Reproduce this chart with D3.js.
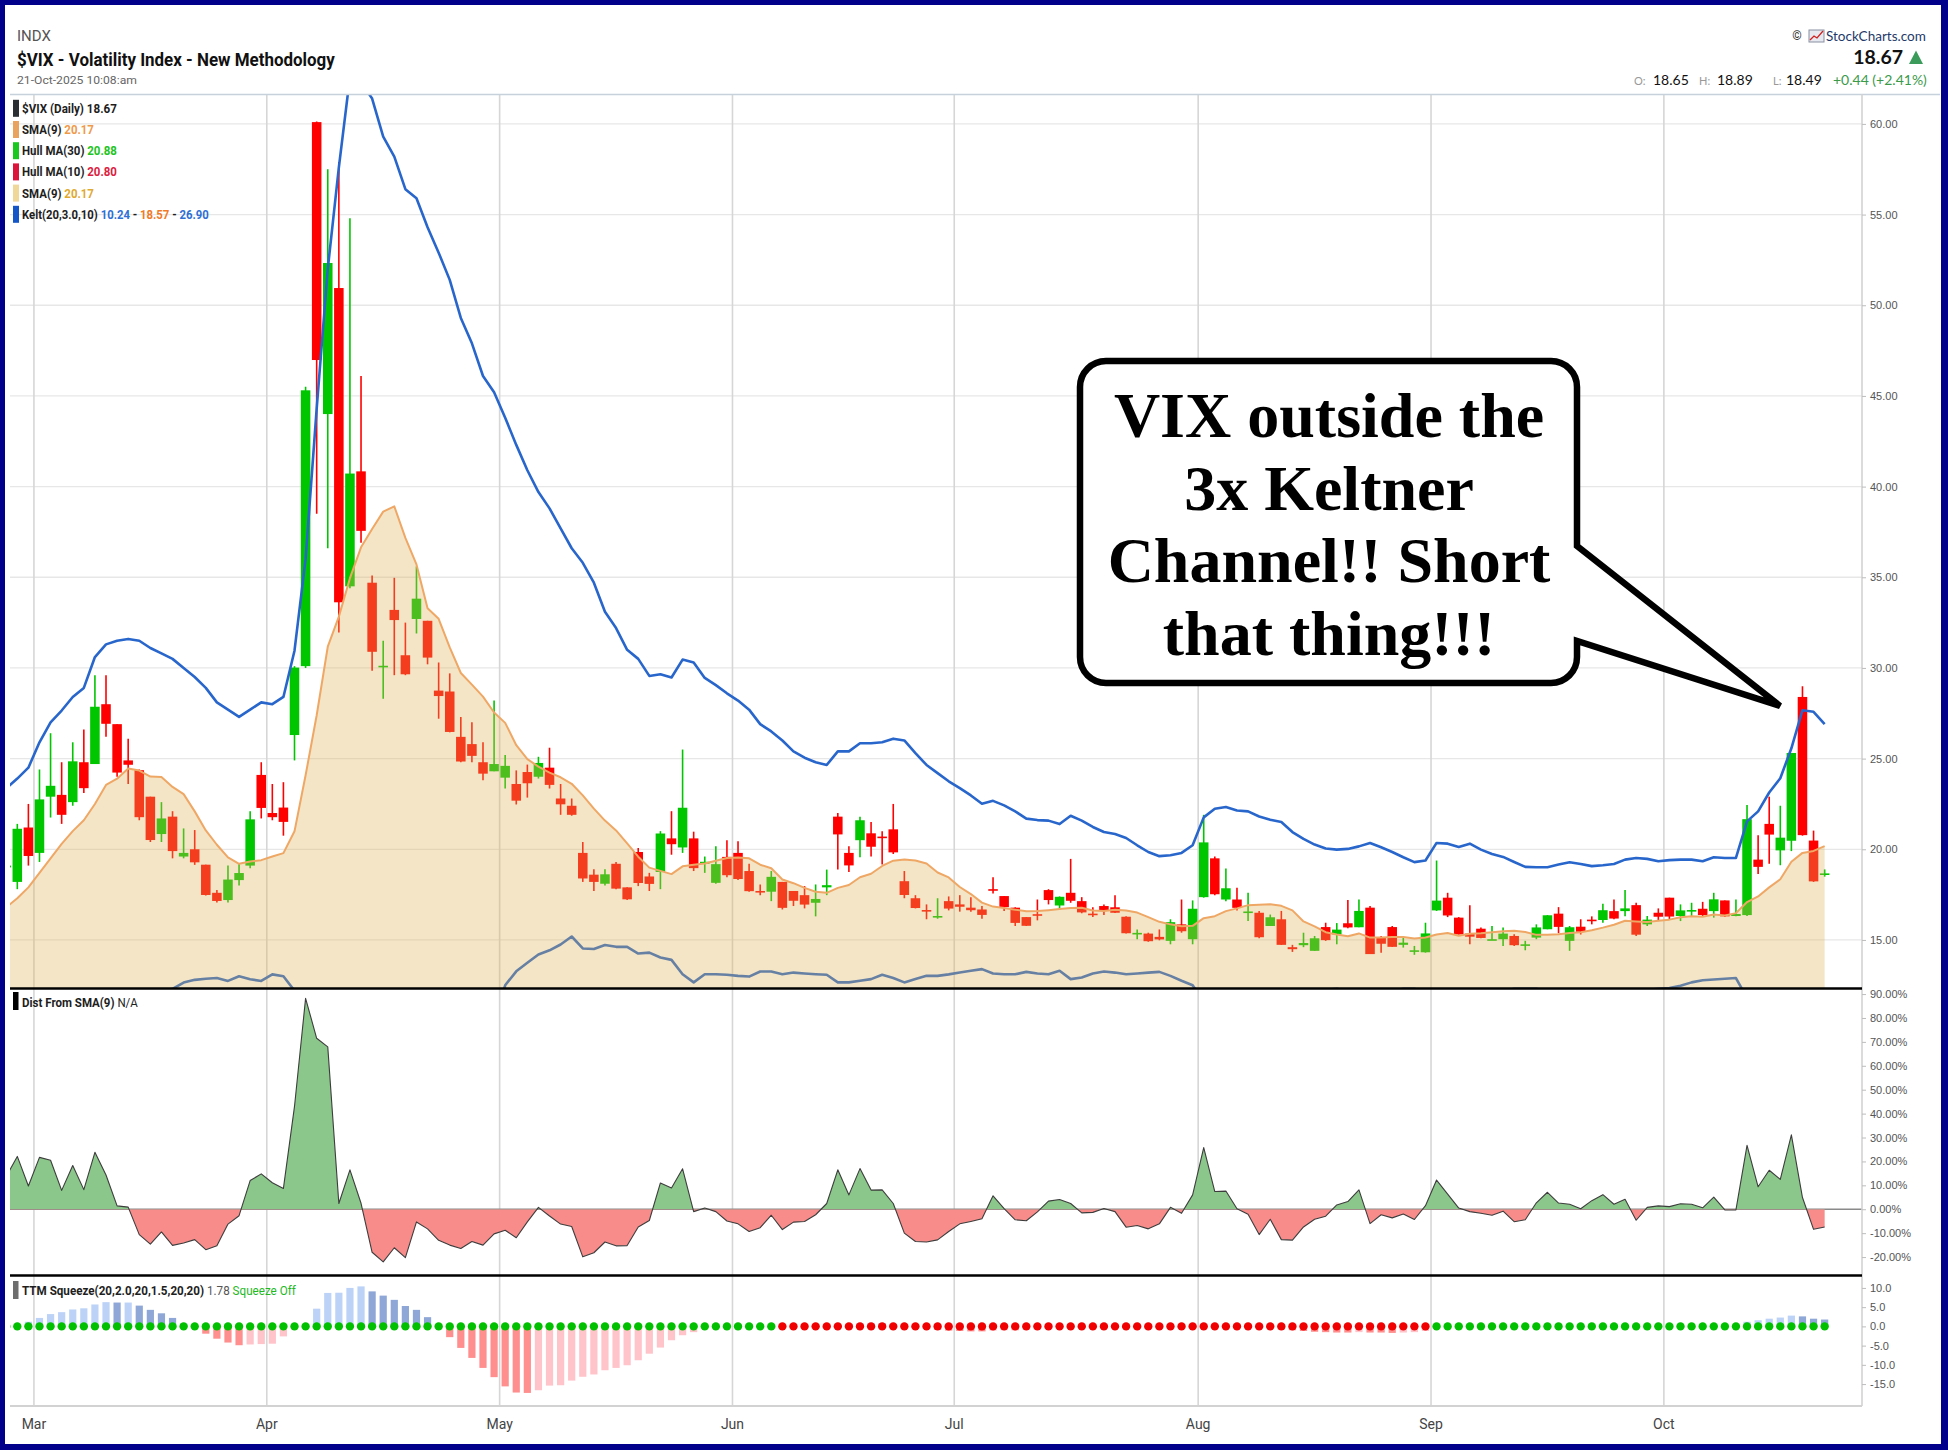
<!DOCTYPE html>
<html>
<head>
<meta charset="utf-8">
<script src="https://cdn.jsdelivr.net/npm/d3@7/dist/d3.min.js"></script>
<style>
html,body{margin:0;padding:0;background:#fff;}
svg{display:block;}
text{font-family:Roboto,"Liberation Sans",sans-serif;}
</style>
</head>
<body>
<svg id="chart" width="1948" height="1450"></svg>
<script>
// ================= DATA =================
const firstTradingDay = "2025-02-26";
const lastTradingDay = "2025-10-21";
const marketHolidays = ["2025-04-18","2025-05-26","2025-06-19","2025-07-04","2025-09-01"];
const monthTickLabels = ["Mar","Apr","May","Jun","Jul","Aug","Sep","Oct"];
const priceTicks = [15,20,25,30,35,40,45,50,55,60];
const distTicks = [-20,-10,0,10,20,30,40,50,60,70,80,90];
const ttmTicks = [-15,-10,-5,0,5,10];

const openP = [19.0,
 18.2,21.2,19.8,22.9,23.0,22.6,24.8,24.7,28.0,26.9,
 24.9,24.36,22.9,20.84,21.8,19.6,20.0,19.15,17.6,17.2,
 18.3,19.1,24.1,22.0,22.3,26.3,30.1,60.1,44.0,50.95,
 34.5,40.84,34.7,30.05,33.2,30.7,32.7,32.6,28.75,28.7,
 26.2,25.8,24.8,24.3,23.95,23.6,24.26,24.0,24.5,22.8,
 22.4,19.8,18.6,18.1,19.2,17.9,19.85,18.5,18.75,20.6,
 20.1,20.6,19.2,18.15,19.58,19.8,18.8,17.7,17.66,18.2,
 17.7,17.47,17.05,17.9,21.8,19.8,20.5,20.88,20.7,21.1,
 18.24,17.3,16.65,16.3,17.14,16.96,16.78,16.68,17.8,17.42,
 16.78,16.26,16.42,17.75,16.9,17.6,17.14,16.45,16.87,16.8,
 16.28,15.37,15.35,15.17,14.95,15.86,15.04,17.36,19.5,17.23,
 17.23,16.55,16.5,15.77,16.14,14.6,14.71,14.4,15.71,15.3,
 15.92,15.7,16.78,15.13,15.71,14.73,14.42,14.32,16.63,17.33,
 16.23,15.35,15.62,15.02,15.04,15.22,14.72,15.13,15.59,16.45,
 14.95,15.73,16.12,16.1,16.59,16.59,16.92,15.86,16.5,17.33,
 16.32,16.6,16.72,16.59,17.18,16.32,16.37,19.43,21.4,19.94,
 20.47,28.4,20.48,18.65];

const highP = [19.6,
 21.4,22.5,24.4,26.4,24.8,25.9,26.6,29.6,29.6,26.9,
 26.1,24.4,22.9,22.6,22.1,21.15,21.06,19.15,17.76,19.1,
 19.2,22.1,24.8,23.6,23.7,30.1,45.5,60.13,57.5,57.9,
 54.8,46.1,35.1,31.5,34.97,32.5,35.6,32.6,30.3,29.7,
 27.3,27.0,25.9,28.2,25.2,24.35,24.67,25.1,25.6,23.6,
 22.8,20.4,18.9,18.9,19.3,17.9,20.07,18.7,21.0,22.1,
 25.5,20.97,19.6,20.16,20.5,20.44,19.2,18.06,18.8,18.2,
 17.7,17.97,18.06,18.88,22.0,20.16,21.8,21.5,21.0,22.5,
 18.8,17.47,16.96,17.3,17.4,17.47,17.36,16.87,18.46,17.42,
 16.8,16.26,17.23,17.8,17.4,19.47,17.36,16.8,16.96,17.47,
 16.3,15.58,15.4,15.58,16.14,17.23,17.18,21.9,19.6,18.94,
 17.88,17.6,16.6,16.4,16.6,14.73,15.4,15.22,15.95,15.93,
 17.2,17.23,16.87,15.22,15.77,15.13,14.67,15.95,19.38,17.6,
 16.26,16.92,15.68,15.77,15.68,15.31,14.95,15.86,16.37,16.81,
 15.77,16.14,16.3,17.0,17.23,17.75,17.05,16.32,16.74,17.33,
 16.96,17.05,17.1,17.6,17.18,17.23,22.44,20.77,22.9,22.4,
 25.31,28.99,21.03,18.89];

const lowP = [18.6,
 17.8,19.1,19.3,21.75,21.4,22.4,23.1,24.7,26.2,24.0,
 23.6,21.6,20.4,20.4,19.5,19.5,19.14,17.45,17.07,17.07,
 18.0,18.96,21.7,21.6,20.75,24.9,30.0,38.5,36.6,31.95,
 34.4,36.9,29.85,28.3,29.6,29.6,31.9,30.2,27.2,26.45,
 24.8,24.8,23.8,24.3,23.35,22.47,22.85,23.9,23.35,21.9,
 21.85,18.2,17.7,18.0,17.8,17.2,17.97,17.7,17.8,19.7,
 19.8,18.8,18.7,18.1,18.46,18.3,17.66,17.47,17.14,16.68,
 16.87,16.74,16.3,17.47,18.88,18.74,19.56,19.6,19.16,19.74,
 17.3,16.74,16.14,16.17,16.63,16.56,16.56,16.17,17.56,16.6,
 15.77,15.77,16.08,16.96,16.65,17.05,16.47,16.26,16.37,16.48,
 15.36,15.04,14.9,14.98,14.76,15.4,14.76,17.33,17.47,17.14,
 16.63,16.04,15.1,15.77,14.73,14.34,14.6,14.4,14.95,14.76,
 15.64,15.7,14.22,14.3,14.62,14.58,14.18,14.3,16.6,16.26,
 15.3,14.76,15.09,15.0,14.67,14.67,14.43,15.04,15.59,15.37,
 14.4,15.3,15.86,15.95,16.14,16.3,15.22,15.77,16.04,16.14,
 16.04,16.28,16.32,16.23,16.26,16.3,16.32,18.64,19.2,19.12,
 19.9,20.75,18.2,18.49];

const closeP = [19.1,
 21.13,19.63,22.75,23.5,21.9,24.85,23.37,27.86,26.92,24.23,
 24.66,21.77,20.51,21.7,19.9,19.8,19.28,17.48,17.15,18.33,
 18.69,21.65,22.28,21.77,21.51,30.02,45.31,46.98,52.33,33.62,
 40.72,37.56,30.89,30.12,32.64,29.65,33.82,30.57,28.45,26.47,
 24.84,25.15,24.17,24.7,24.6,22.68,23.64,24.76,23.55,22.48,
 21.9,18.39,18.2,18.62,17.83,17.24,18.14,18.09,20.87,20.28,
 22.29,18.96,19.31,19.18,18.57,18.36,17.69,17.68,18.48,16.77,
 17.16,16.95,17.26,18.02,20.82,19.11,21.6,20.14,20.62,19.83,
 17.48,16.76,16.59,16.32,16.73,16.83,16.64,16.38,17.79,16.81,
 15.94,15.78,16.4,17.2,17.38,17.16,16.52,16.41,16.65,16.5,
 15.37,15.39,14.93,15.03,15.98,15.48,16.72,20.38,17.52,17.85,
 16.77,16.57,15.15,16.25,14.73,14.49,14.83,15.09,14.99,15.57,
 15.69,16.6,14.22,14.79,14.62,14.85,14.43,15.36,17.17,16.35,
 15.3,15.18,15.11,15.04,15.35,14.71,14.76,15.69,16.36,15.72,
 15.7,15.45,16.1,16.64,16.18,16.74,15.29,16.12,16.28,16.29,
 16.63,16.65,16.37,17.24,16.3,16.43,21.66,19.03,20.81,20.64,
 25.31,20.78,18.23,18.67];

const sma9 = [16.8,
 17.3,17.9,18.7,19.5,20.3,21.0,21.6,22.5,23.55,23.89,
 24.45,24.34,24.01,23.99,23.44,23.04,22.09,21.04,20.25,19.55,
 19.20,19.33,19.40,19.60,19.79,20.99,24.08,27.39,31.17,32.83,
 34.95,36.65,37.66,38.62,38.91,37.17,35.71,33.29,32.71,31.13,
 29.72,29.08,28.42,27.54,26.97,25.74,24.97,24.56,24.23,23.97,
 23.61,22.97,22.24,21.58,21.04,20.33,19.59,18.99,18.81,18.63,
 19.06,19.15,19.22,19.37,19.52,19.55,19.50,19.15,18.95,18.33,
 18.13,17.87,17.66,17.60,17.87,18.03,18.46,18.65,19.08,19.37,
 19.43,19.38,19.22,18.72,18.45,17.92,17.53,17.06,16.84,16.76,
 16.67,16.58,16.59,16.64,16.70,16.76,16.78,16.62,16.60,16.67,
 16.62,16.51,16.26,16.00,15.86,15.75,15.78,16.20,16.31,16.59,
 16.74,16.92,16.94,16.97,16.88,16.63,16.02,15.75,15.43,15.30,
 15.20,15.36,15.13,15.14,15.16,15.16,15.08,15.13,15.30,15.38,
 15.23,15.34,15.37,15.42,15.48,15.51,15.44,15.28,15.28,15.32,
 15.38,15.42,15.54,15.68,15.84,16.06,16.02,15.99,16.06,16.12,
 16.25,16.31,16.28,16.40,16.35,16.48,17.09,17.40,17.90,18.35,
 19.31,19.80,19.91,20.17];

const keltUpper = [23.35,
 23.9,24.5,25.9,27.0,27.65,28.4,28.9,30.6,31.3,31.5,
 31.6,31.5,31.1,30.8,30.5,30.0,29.5,28.9,28.1,27.7,
 27.3,27.7,28.1,28.0,28.4,30.95,36.0,44.3,52.0,57.6,
 62.6,62.3,61.4,59.3,58.2,56.4,55.9,54.3,52.9,51.4,
 49.3,47.9,46.1,45.2,43.8,42.3,40.9,39.7,38.8,37.7,
 36.6,35.8,34.7,33.1,32.2,31.0,30.5,29.56,29.65,29.47,
 30.46,30.3,29.45,29.05,28.6,28.2,27.7,26.9,26.5,26.0,
 25.4,25.05,24.8,24.65,25.4,25.4,25.85,25.85,25.9,26.1,
 26.0,25.3,24.65,24.2,23.75,23.37,22.97,22.51,22.67,22.42,
 22.09,21.69,21.61,21.58,21.39,21.85,21.58,21.23,20.95,20.84,
 20.62,20.22,19.85,19.62,19.67,19.8,20.22,21.76,22.23,22.33,
 22.14,22.09,21.81,21.63,21.5,20.95,20.57,20.26,20.04,19.98,
 20.02,20.16,20.35,20.11,19.85,19.56,19.29,19.38,20.35,20.31,
 20.13,20.31,19.98,19.74,19.58,19.3,19.03,19.01,19.01,19.16,
 19.28,19.19,19.07,19.12,19.19,19.43,19.52,19.47,19.34,19.4,
 19.43,19.43,19.34,19.56,19.52,19.52,21.54,22.09,23.13,23.92,
 25.57,27.67,27.58,26.9];

const keltLower = [11.9,
 11.9,11.9,11.8,11.7,11.6,11.5,11.4,11.3,11.4,11.5,
 11.7,11.9,12.0,12.2,12.3,12.65,12.8,12.86,12.9,12.74,
 13.0,12.83,12.74,13.1,13.0,12.2,9.5,5.5,2.0,0.5,
 -1.0,-1.0,0.0,1.0,1.8,3.0,3.5,4.5,5.5,6.5,
 7.5,8.2,9.0,10.5,12.5,13.27,13.74,14.2,14.43,14.75,
 15.19,14.53,14.5,14.72,14.62,14.62,14.25,14.3,14.03,13.9,
 13.11,12.66,13.11,13.11,13.08,13.02,12.98,13.26,13.26,13.11,
 13.2,13.15,13.11,13.08,12.66,12.66,12.75,12.84,13.08,12.9,
 12.66,12.84,13.02,13.02,13.1,13.2,13.3,13.39,13.15,13.11,
 13.11,13.24,13.15,13.11,13.3,12.84,12.93,13.15,13.26,13.2,
 13.11,13.15,13.2,13.24,13.02,12.75,12.5,11.6,11.5,11.5,
 11.6,11.6,11.7,11.8,11.8,12.0,12.1,12.2,12.25,12.3,
 12.2,12.1,12.0,12.1,12.2,12.3,12.3,12.2,11.9,11.9,
 12.0,12.0,12.1,12.2,12.2,12.3,12.3,12.3,12.2,12.2,
 12.2,12.2,12.25,12.2,12.25,12.2,12.2,12.25,12.3,12.35,
 12.47,12.66,12.78,12.82,12.86,12.9,11.8,11.5,11.2,11.0,
 10.6,10.2,10.3,10.24];

const distFromSma = [13.7,
 22.1,9.7,21.7,20.5,7.9,18.3,8.2,23.8,14.3,1.4,
 0.9,-10.6,-14.6,-9.5,-15.1,-14.1,-12.7,-16.9,-15.3,-6.2,
 -2.7,12.0,14.8,11.1,8.7,43.0,88.2,71.5,67.9,2.4,
 16.5,2.5,-18.0,-22.0,-16.1,-20.2,-5.3,-8.2,-13.0,-15.0,
 -16.4,-13.5,-15.0,-10.3,-8.8,-11.9,-5.3,0.8,-2.8,-6.2,
 -7.2,-19.9,-18.2,-13.7,-15.3,-15.2,-7.4,-4.7,11.0,8.9,
 16.9,-1.0,0.5,-1.0,-4.9,-6.1,-9.3,-7.7,-2.5,-8.5,
 -5.4,-5.1,-2.3,2.4,16.5,6.0,17.0,8.0,8.1,2.4,
 -10.0,-13.5,-13.7,-12.8,-9.3,-6.1,-5.1,-4.0,5.6,0.3,
 -4.4,-4.8,-1.1,3.4,4.1,2.4,-1.5,-1.3,0.3,-1.0,
 -7.5,-6.8,-8.2,-6.1,0.8,-1.7,6.0,25.8,7.4,7.6,
 0.2,-2.1,-10.6,-4.2,-12.7,-12.9,-7.4,-4.2,-2.9,1.8,
 3.2,8.1,-6.0,-2.3,-3.6,-2.0,-4.3,1.5,12.2,6.3,
 0.5,-1.0,-1.7,-2.5,-0.8,-5.2,-4.4,2.7,7.1,2.6,
 2.1,0.2,3.6,6.1,2.1,4.2,-4.6,0.8,1.4,1.1,
 2.3,2.1,0.6,5.1,-0.3,-0.3,26.7,9.4,16.3,12.5,
 31.1,4.9,-8.4,-7.4];

const ttmMomentum = [-0.2,
 0.4,1.2,2.2,3.2,3.7,4.4,4.7,5.7,6.3,6.2,
 6.2,5.4,4.3,3.4,2.2,0.7,-0.2,-1.9,-3.2,-4.2,
 -4.9,-4.7,-4.6,-4.5,-2.6,-0.8,0.3,4.6,8.7,8.75,
 10.0,10.4,9.1,8.0,6.9,5.3,4.3,2.4,-0.5,-2.8,
 -5.6,-8.2,-10.8,-13.2,-15.6,-17.2,-17.3,-16.6,-15.4,-15.3,
 -14.1,-13.1,-12.5,-11.4,-10.8,-10.1,-8.8,-7.1,-5.5,-3.6,
 -2.3,-1.5,-0.6,-0.3,0.2,0.3,0.2,0.1,0.1,0.2,
 0.2,0.3,0.3,0.2,0.5,0.6,0.8,0.9,0.8,0.6,
 0.2,-0.3,-0.6,-0.9,-1.1,-1.2,-1.3,-1.3,-1.1,-1.0,
 -1.0,-0.9,-0.8,-0.6,-0.5,-0.4,-0.4,-0.3,-0.3,-0.3,
 -0.4,-0.5,-0.6,-0.6,-0.5,-0.3,0.1,0.3,0.3,0.3,
 0.2,0.1,-0.3,-0.5,-0.8,-1.0,-1.2,-1.4,-1.5,-1.6,
 -1.6,-1.5,-1.6,-1.6,-1.7,-1.6,-1.5,-1.2,-0.6,-0.4,
 -0.3,-0.3,-0.2,-0.2,-0.2,-0.2,-0.1,0.1,0.2,0.2,
 0.2,0.2,0.3,0.4,0.4,0.4,0.3,0.3,0.3,0.3,
 0.3,0.3,0.3,0.4,0.4,0.4,1.2,1.6,2.0,2.3,
 2.8,2.6,2.0,1.78];

// 1 = squeeze on (red dot), 0 = squeeze off (green dot)
const squeezeOn = ("0" +
 "0000000000" + "0000000000" + "0000000000" + "0000000000" + "0000000000" +
 "0000000000" + "000000000" + "1111111111" + "1111111111" + "1111111111" +
 "1111111111" + "1111111111" + "111111111" + "0000000000" + "0000000000" +
 "0000000000" + "000000").split("").map(Number);

const legendMain = [
  {marker:"#2b2f33", parts:[["$VIX (Daily) ","#1e1e1e"],["18.67","#1e1e1e"]], w:95},
  {marker:"#e9a35f", parts:[["SMA(9) ","#1e1e1e"],["20.17","#ef9a4a"]], w:72},
  {marker:"#19c81e", parts:[["Hull MA(30) ","#1e1e1e"],["20.88","#22c422"]], w:95},
  {marker:"#dc143c", parts:[["Hull MA(10) ","#1e1e1e"],["20.80","#dc2040"]], w:95},
  {marker:"#f0d898", parts:[["SMA(9) ","#1e1e1e"],["20.17","#e0aa30"]], w:72},
  {marker:"#1456c8", parts:[["Kelt(20,3.0,10) ","#1e1e1e"],["10.24","#2f6fd6"],[" - ","#1e1e1e"],["18.57","#f07a28"],[" - ","#1e1e1e"],["26.90","#2f6fd6"]], w:187}
];

// ================= BUILD =================
const parseD = d3.utcParse("%Y-%m-%d"), fmtD = d3.utcFormat("%Y-%m-%d");
const dates = d3.utcDays(parseD(firstTradingDay), d3.utcDay.offset(parseD(lastTradingDay), 1))
  .filter(d => d.getUTCDay() !== 0 && d.getUTCDay() !== 6 && !marketHolidays.includes(fmtD(d)))
  .map(fmtD);
const n = dates.length;
if (n !== closeP.length) console.error("length mismatch", n, closeP.length);

const svg = d3.select("#chart");
const W = 1948, H = 1450;
const plotL = 10, plotR = 1862;
const mainT = 94, mainB = 988, distT = 990, distB = 1275, ttmT = 1276, ttmB = 1406;

svg.append("rect").attr("width", W).attr("height", H).attr("fill", "#fff");

const xb = d3.scaleBand().domain(dates).range([0.67, 0.67 + n * 11.088]).padding(0);
const step = xb.step();
const cx = d => xb(d) + step / 2;
const bodyW = step * 0.86;

const yMain = d3.scaleLinear().domain([12.35, 61.65]).range([mainB, mainT]);
const yDist = d3.scaleLinear().domain([-27.5, 91.7]).range([distB, distT]);
const yTtm = d3.scaleLinear().domain([-20.7, 13.1]).range([ttmB, ttmT]);

// scale a text element horizontally so that it spans targetW pixels
function fitText(sel, targetW) {
  const node = sel.node();
  const w = node.getComputedTextLength();
  const x = +sel.attr("x"), y = +sel.attr("y");
  const sx = w > 0 ? targetW / w : 1;
  sel.attr("x", 0).attr("y", 0).attr("transform", `translate(${x},${y}) scale(${sx},1)`);
  return sel;
}

const defs = svg.append("defs");
function clip(id, x, y, w, h) {
  defs.append("clipPath").attr("id", id).append("rect").attr("x", x).attr("y", y).attr("width", w).attr("height", h);
}
clip("cMain", plotL, mainT, plotR - plotL, mainB - mainT);
clip("cDist", plotL, distT, plotR - plotL, distB - distT);
clip("cDistPos", plotL, distT, plotR - plotL, yDist(0) - distT);
clip("cDistNeg", plotL, yDist(0), plotR - plotL, distB - yDist(0));
clip("cTtm", plotL, ttmT, plotR - plotL, ttmB - ttmT);

// month starts
const monthStarts = dates.map((d, i) => ({d, i}))
  .filter(o => o.i > 0 && o.d.slice(5, 7) !== dates[o.i - 1].slice(5, 7));

// ---------- grid ----------
const grid = svg.append("g");
grid.selectAll("line.h").data(priceTicks).join("line")
  .attr("x1", plotL).attr("x2", plotR)
  .attr("y1", d => yMain(d)).attr("y2", d => yMain(d))
  .attr("stroke", "#e7e7e7").attr("stroke-width", 1.3);
grid.selectAll("line.v").data(monthStarts).join("line")
  .attr("x1", o => xb(o.d)).attr("x2", o => xb(o.d))
  .attr("y1", mainT).attr("y2", ttmB)
  .attr("stroke", "#d6d6d6").attr("stroke-width", 1.6);

// ---------- candles ----------
const gC = svg.append("g").attr("clip-path", "url(#cMain)");
const candles = dates.map((d, i) => ({d, o: openP[i], h: highP[i], l: lowP[i], c: closeP[i]}));
const colOf = k => k.c >= k.o ? "#00c600" : "#ff0000";
gC.selectAll("line.wick").data(candles).join("line")
  .attr("x1", k => cx(k.d)).attr("x2", k => cx(k.d))
  .attr("y1", k => yMain(k.h)).attr("y2", k => yMain(k.l))
  .attr("stroke", colOf).attr("stroke-width", 1.6);
gC.selectAll("rect.body").data(candles).join("rect")
  .attr("x", k => cx(k.d) - bodyW / 2)
  .attr("width", bodyW)
  .attr("y", k => yMain(Math.max(k.o, k.c)))
  .attr("height", k => Math.max(1.6, yMain(Math.min(k.o, k.c)) - yMain(Math.max(k.o, k.c))))
  .attr("fill", colOf);

// ---------- Keltner ----------
const lineMain = d3.line().x((v, i) => cx(dates[i])).y(v => yMain(v));
gC.append("path").attr("d", lineMain(keltUpper)).attr("fill", "none")
  .attr("stroke", "#2866cc").attr("stroke-width", 2.6).attr("stroke-linejoin", "round");
gC.append("path").attr("d", lineMain(keltLower)).attr("fill", "none")
  .attr("stroke", "#2866cc").attr("stroke-width", 2.6).attr("stroke-linejoin", "round");

// ---------- SMA area (translucent, over candles) ----------
const smaArea = d3.area().x((v, i) => cx(dates[i])).y0(mainB).y1(v => yMain(v));
gC.append("path").attr("d", smaArea(sma9)).attr("fill", "rgba(222,178,88,0.34)");
gC.append("path").attr("d", lineMain(sma9)).attr("fill", "none")
  .attr("stroke", "#efa765").attr("stroke-width", 2).attr("stroke-linejoin", "round");

// ---------- Dist from SMA ----------
const distArea = d3.area().x((v, i) => cx(dates[i])).y0(yDist(0)).y1(v => yDist(v));
const distLine = d3.line().x((v, i) => cx(dates[i])).y(v => yDist(v));
const gD = svg.append("g").attr("clip-path", "url(#cDist)");
gD.append("line").attr("x1", plotL).attr("x2", plotR).attr("y1", yDist(0)).attr("y2", yDist(0))
  .attr("stroke", "#8a8a8a").attr("stroke-width", 1.6);
gD.append("g").attr("clip-path", "url(#cDistPos)").append("path")
  .attr("d", distArea(distFromSma)).attr("fill", "#8bc78a");
gD.append("g").attr("clip-path", "url(#cDistNeg)").append("path")
  .attr("d", distArea(distFromSma)).attr("fill", "#f78c8a");
gD.append("path").attr("d", distLine(distFromSma)).attr("fill", "none")
  .attr("stroke", "#3d3d3d").attr("stroke-width", 1.1).attr("stroke-linejoin", "round");

// ---------- TTM squeeze ----------
const gT = svg.append("g").attr("clip-path", "url(#cTtm)");
const ttmData = dates.map((d, i) => ({d, v: ttmMomentum[i], p: i > 0 ? ttmMomentum[i - 1] : 0, on: squeezeOn[i]}));
const barCol = t => t.v >= 0 ? (t.v >= t.p ? "#bcd3f7" : "#8ea7d6") : (t.v <= t.p ? "#ff8f8f" : "#ffc3ca");
gT.selectAll("rect.h").data(ttmData).join("rect")
  .attr("x", t => cx(t.d) - 3.6).attr("width", 7.2)
  .attr("y", t => Math.min(yTtm(0), yTtm(t.v)))
  .attr("height", t => Math.abs(yTtm(t.v) - yTtm(0)))
  .attr("fill", barCol);
gT.selectAll("circle").data(ttmData).join("circle")
  .attr("cx", t => cx(t.d)).attr("cy", yTtm(0)).attr("r", 4.2)
  .attr("fill", t => t.on ? "#f00000" : "#00c000");

// ---------- panel frames ----------
svg.append("line").attr("x1", plotL).attr("x2", 1940).attr("y1", 94.5).attr("y2", 94.5).attr("stroke", "#c7d1db").attr("stroke-width", 1.5);
svg.append("line").attr("x1", plotR).attr("x2", plotR).attr("y1", mainT).attr("y2", ttmB).attr("stroke", "#d2d2d2").attr("stroke-width", 1.6);
svg.append("line").attr("x1", plotL).attr("x2", plotR).attr("y1", mainB + 0.5).attr("y2", mainB + 0.5).attr("stroke", "#000").attr("stroke-width", 2.5);
svg.append("line").attr("x1", plotL).attr("x2", plotR).attr("y1", distB + 0.5).attr("y2", distB + 0.5).attr("stroke", "#000").attr("stroke-width", 2.5);
svg.append("line").attr("x1", plotL).attr("x2", plotR).attr("y1", ttmB).attr("y2", ttmB).attr("stroke", "#d2d2d2").attr("stroke-width", 2);

// ---------- axes ----------
function styleAxis(g) {
  g.select(".domain").remove();
  g.selectAll(".tick line").attr("stroke", "#bdbdbd");
  g.selectAll(".tick text").attr("fill", "#555").style("font-family", "'Liberation Sans',Arial,sans-serif").style("font-size", "11px");
}
svg.append("g").attr("transform", `translate(${plotR},0)`)
  .call(d3.axisRight(yMain).tickValues(priceTicks).tickFormat(d3.format(".2f")).tickSize(4).tickPadding(4))
  .call(styleAxis);
svg.append("g").attr("transform", `translate(${plotR},0)`)
  .call(d3.axisRight(yDist).tickValues(distTicks).tickFormat(d => d.toFixed(2) + "%").tickSize(4).tickPadding(4))
  .call(styleAxis);
svg.append("g").attr("transform", `translate(${plotR},0)`)
  .call(d3.axisRight(yTtm).tickValues(ttmTicks).tickFormat(d => d.toFixed(1)).tickSize(4).tickPadding(4))
  .call(styleAxis);

svg.append("g").selectAll("text").data(monthStarts).join("text")
  .attr("x", o => xb(o.d)).attr("y", 1429)
  .attr("text-anchor", "middle").attr("fill", "#444")
  .style("font-size", "14px")
  .text((o, k) => monthTickLabels[k]);

// ---------- legends ----------
const gL = svg.append("g");
legendMain.forEach((row, k) => {
  const yc = 108.3 + k * 21.2;
  gL.append("rect").attr("x", 13).attr("y", yc - 8.5).attr("width", 6).attr("height", 17).attr("fill", row.marker);
  const t = gL.append("text").attr("x", 22).attr("y", yc + 4.5)
    .style("font-size", "12.5px").style("font-weight", "700");
  row.parts.forEach(p => t.append("tspan").attr("fill", p[1]).text(p[0]));
  fitText(t, row.w);
});
gL.append("rect").attr("x", 13).attr("y", 992).attr("width", 5.5).attr("height", 18).attr("fill", "#000");
{
  const t = gL.append("text").attr("x", 22).attr("y", 1007).style("font-size", "12.5px");
  t.append("tspan").attr("fill", "#1e1e1e").style("font-weight", "700").text("Dist From SMA(9) ");
  t.append("tspan").attr("fill", "#1e1e1e").text("N/A");
  fitText(t, 116);
}
gL.append("rect").attr("x", 13).attr("y", 1281).attr("width", 5.5).attr("height", 18).attr("fill", "#6e6e6e");
{
  const t = gL.append("text").attr("x", 22).attr("y", 1295).style("font-size", "12.5px");
  t.append("tspan").attr("fill", "#1e1e1e").style("font-weight", "700").text("TTM Squeeze(20,2.0,20,1.5,20,20)");
  t.append("tspan").attr("fill", "#555").text(" 1.78 ");
  t.append("tspan").attr("fill", "#1fb81f").text("Squeeze Off");
  fitText(t, 274);
}

// ---------- header ----------
svg.append("text").attr("x", 17).attr("y", 41).attr("fill", "#555").style("font-size", "15px").text("INDX");
fitText(svg.append("text").attr("x", 17).attr("y", 66).attr("fill", "#111").style("font-size", "18px").style("font-weight", "700")
  .text("$VIX - Volatility Index - New Methodology"), 318);
fitText(svg.append("text").attr("x", 17).attr("y", 84).attr("fill", "#666").style("font-size", "11.5px")
  .text("21-Oct-2025 10:08:am"), 120);

svg.append("text").attr("x", 1797).attr("y", 40).attr("text-anchor", "middle").attr("fill", "#333").style("font-size", "12px").text("©");
const ic = svg.append("g");
ic.append("rect").attr("x", 1809).attr("y", 30).attr("width", 15).attr("height", 12).attr("fill", "#e6e9f0").attr("stroke", "#8a8fa0").attr("stroke-width", 1);
ic.append("path").attr("d", "M1810,40 L1814,36 L1817,38 L1823,31").attr("fill", "none").attr("stroke", "#d02020").attr("stroke-width", 1.3);
fitText(svg.append("text").attr("x", 1826).attr("y", 41).attr("fill", "#1f3a6a")
  .style("font-family", "Lato,Roboto,sans-serif").style("font-size", "13.5px").text("StockCharts.com"), 100);
svg.append("text").attr("x", 1903).attr("y", 64).attr("text-anchor", "end").attr("fill", "#111")
  .style("font-family", "Lato,Roboto,sans-serif").style("font-size", "19.5px").style("font-weight", "700").text("18.67");
svg.append("path").attr("d", "M1909,64 L1923,64 L1916,50.5 Z").attr("fill", "#3a9b5b");
const ohlc = [["O:",1634,"#999",11],["18.65",1653,"#111",14],["H:",1699,"#999",11],["18.89",1717,"#111",14],
              ["L:",1773,"#999",11],["18.49",1786,"#111",14],["+0.44 (+2.41%)",1833,"#3a9a4a",14]];
ohlc.forEach(o => svg.append("text").attr("x", o[1]).attr("y", 85).attr("fill", o[2])
  .style("font-family", "Lato,Roboto,sans-serif").style("font-size", o[3] + "px").text(o[0]));

// ---------- callout ----------
const bx0 = 1080, by0 = 361, bx1 = 1577, by1 = 683, r = 26;
const tailTop = 546, tailBot = 641, tipX = 1780, tipY = 706;
svg.append("path")
  .attr("d", `M${bx0 + r},${by0} H${bx1 - r} A${r},${r} 0 0 1 ${bx1},${by0 + r} V${tailTop} L${tipX},${tipY} L${bx1},${tailBot} V${by1 - r} A${r},${r} 0 0 1 ${bx1 - r},${by1} H${bx0 + r} A${r},${r} 0 0 1 ${bx0},${by1 - r} V${by0 + r} A${r},${r} 0 0 1 ${bx0 + r},${by0} Z`)
  .attr("fill", "#fff").attr("stroke", "#000").attr("stroke-width", 6.5).attr("stroke-linejoin", "miter");
const calloutLines = ["VIX outside the", "3x Keltner", "Channel!! Short", "that thing!!!"];
svg.append("g").selectAll("text").data(calloutLines).join("text")
  .attr("x", 1329).attr("y", (s, k) => 437 + k * 72.7)
  .attr("text-anchor", "middle").attr("fill", "#000")
  .style("font-family", "'Liberation Serif','Times New Roman',serif").style("font-size", "64px").style("font-weight", "700")
  .text(s => s);

// ---------- outer frame ----------
const navy = "#00008b";
svg.append("rect").attr("x", 0).attr("y", 0).attr("width", W).attr("height", 5).attr("fill", navy);
svg.append("rect").attr("x", 0).attr("y", 0).attr("width", 5).attr("height", H).attr("fill", navy);
svg.append("rect").attr("x", 1941).attr("y", 0).attr("width", 7).attr("height", H).attr("fill", navy);
svg.append("rect").attr("x", 0).attr("y", 1444).attr("width", W).attr("height", 6).attr("fill", navy);
</script>
</body>
</html>
